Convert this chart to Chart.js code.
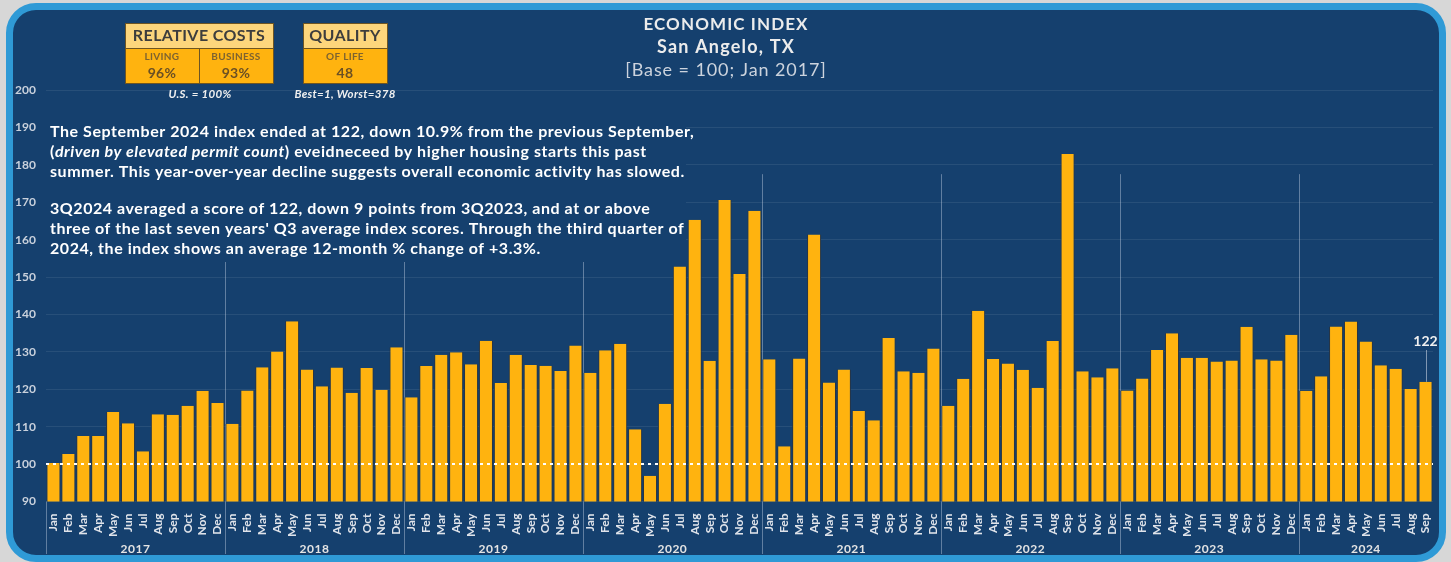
<!DOCTYPE html>
<html>
<head>
<meta charset="utf-8">
<script src="https://cdn.jsdelivr.net/npm/chart.js@4.4.1/dist/chart.umd.min.js"></script>
<style>
  html, body { margin: 0; padding: 0; width: 1451px; height: 562px; overflow: hidden; background: #d7d7d7; }
  #frame { position: absolute; left: 6px; top: 3px; width: 1426px; height: 545px;
           border: 7px solid #2f9ad6; border-radius: 30px; background: #15406e; }
  #c { position: absolute; left: 0; top: 0; }
</style>
</head>
<body>
<div id="frame"></div>
<canvas id="c" width="1451" height="562"></canvas>
<script>
const NAVY = '#15406e';
const BAR = '#ffb30f';

const monthNames = ['Jan', 'Feb', 'Mar', 'Apr', 'May', 'Jun', 'Jul', 'Aug', 'Sep', 'Oct', 'Nov', 'Dec'];
const years = ['2017', '2018', '2019', '2020', '2021', '2022', '2023', '2024'];

// index values, one array per year
const idx2017 = [100.3, 102.7, 107.5, 107.5, 113.9, 110.9, 103.4, 113.3, 113.2, 115.6, 119.6, 116.3];
const idx2018 = [110.8, 119.7, 125.9, 130.1, 138.2, 125.3, 120.8, 125.8, 119.1, 125.7, 119.9, 131.2];
const idx2019 = [117.9, 126.2, 129.2, 129.9, 126.7, 133.0, 121.7, 129.2, 126.5, 126.3, 124.9, 131.7];
const idx2020 = [124.4, 130.4, 132.2, 109.3, 96.9, 116.1, 152.8, 165.3, 127.6, 170.6, 150.8, 167.7];
const idx2021 = [128.0, 104.8, 128.2, 161.4, 121.8, 125.3, 114.2, 111.7, 133.7, 124.8, 124.4, 130.9];
const idx2022 = [115.6, 122.8, 141.0, 128.1, 126.9, 125.2, 120.4, 132.9, 182.9, 124.8, 123.2, 125.6];
const idx2023 = [119.7, 122.9, 130.5, 135.0, 128.4, 128.4, 127.4, 127.7, 136.7, 128.0, 127.7, 134.6];
const idx2024 = [119.6, 123.5, 136.8, 138.1, 132.8, 126.4, 125.5, 120.1, 122.0];

const yearData = [idx2017, idx2018, idx2019, idx2020, idx2021, idx2022, idx2023, idx2024];
const labels = yearData.flatMap(arr => arr.map((v, i) => monthNames[i]));
const values = yearData.flat();

const baseValue = 100;
const lastLabel = '122';

const noteLines = [
  [['The September 2024 index ended at 122, down 10.9% from the previous September,', false]],
  [['(', false], ['driven by elevated permit count', true], [') eveidneceed by higher housing starts this past', false]],
  [['summer. This year-over-year decline suggests overall economic activity has slowed.', false]],
  [['3Q2024 averaged a score of 122, down 9 points from 3Q2023, and at or above', false]],
  [['three of the last seven years\' Q3 average index scores. Through the third quarter of', false]],
  [['2024, the index shows an average 12-month % change of +3.3%.', false]],
];
const noteY = [132, 152, 172, 209, 229, 249];

function box(ctx, x, w, head, cells) {
  ctx.fillStyle = '#fdd67c';
  ctx.fillRect(x, 23, w, 25);
  ctx.fillStyle = BAR;
  ctx.fillRect(x, 48, w, 35);
  ctx.strokeStyle = '#6e5522';
  ctx.lineWidth = 1;
  ctx.strokeRect(x + 0.5, 23.5, w, 60);
  ctx.beginPath(); ctx.moveTo(x, 48.5); ctx.lineTo(x + w, 48.5); ctx.stroke();
  ctx.textAlign = 'center';
  ctx.textBaseline = 'middle';
  ctx.fillStyle = '#3d3d3d';
  ctx.font = 'bold 16px Lato';
  ctx.letterSpacing = '0.4px';
  ctx.fillText(head, x + w / 2, 36);
  ctx.letterSpacing = '0.3px';
  const cw = w / cells.length;
  cells.forEach((c, i) => {
    if (i > 0) {
      ctx.beginPath(); ctx.moveTo(x + cw * i + 0.5, 48); ctx.lineTo(x + cw * i + 0.5, 83); ctx.stroke();
    }
    ctx.fillStyle = '#7d6330';
    ctx.font = 'bold 10px Lato';
    ctx.fillText(c[0], x + cw * i + cw / 2, 57);
    ctx.fillStyle = '#6b5024';
    ctx.font = 'bold 14px Lato';
    ctx.fillText(c[1], x + cw * i + cw / 2, 73);
  });
  ctx.letterSpacing = '0px';
}

const decorations = {
  id: 'decorations',
  beforeDatasetsDraw(chart) {
    const {ctx, chartArea, scales: {x, y}} = chart;
    const step = x.getPixelForValue(1) - x.getPixelForValue(0);
    ctx.save();
    ctx.strokeStyle = 'rgba(190,205,225,0.45)';
    ctx.lineWidth = 1;
    let i = 0;
    yearData.forEach((arr, k) => {
      const xp = Math.round(x.getPixelForValue(i) - step / 2) + 0.5;
      ctx.beginPath();
      ctx.moveTo(xp, k === 0 ? chartArea.bottom : y.getPixelForValue(177.5));
      ctx.lineTo(xp, 554);
      ctx.stroke();
      i += arr.length;
    });
    // commentary panel
    ctx.fillStyle = NAVY;
    ctx.fillRect(44, 116, 642, 146);
    ctx.fillStyle = '#ffffff';
    ctx.textBaseline = 'middle';
    ctx.textAlign = 'left';
    ctx.letterSpacing = '0.55px';
    noteLines.forEach((segs, li) => {
      let xp = 50;
      segs.forEach(([t, it]) => {
        ctx.font = (it ? 'italic ' : '') + 'bold 16px Lato';
        ctx.fillText(t, xp, noteY[li]);
        xp += ctx.measureText(t).width;
      });
    });
    ctx.letterSpacing = '0px';
    ctx.restore();
  },
  afterDatasetsDraw(chart) {
    const {ctx, chartArea, scales: {x, y}} = chart;
    ctx.save();
    // base = 100 dotted line
    const yb = y.getPixelForValue(baseValue);
    ctx.strokeStyle = '#ffffff';
    ctx.lineWidth = 2;
    ctx.setLineDash([3, 4]);
    ctx.beginPath();
    ctx.moveTo(chartArea.left, yb);
    ctx.lineTo(chartArea.right, yb);
    ctx.stroke();
    ctx.setLineDash([]);

    // last value label
    const li = values.length - 1;
    const lx = x.getPixelForValue(li);
    ctx.strokeStyle = 'rgba(200,210,225,0.6)';
    ctx.lineWidth = 1;
    ctx.beginPath();
    ctx.moveTo(Math.round(lx) + 0.5, y.getPixelForValue(values[li]));
    ctx.lineTo(Math.round(lx) + 0.5, y.getPixelForValue(130.5));
    ctx.stroke();
    ctx.fillStyle = '#f0f0f0';
    ctx.font = 'bold 14px Lato';
    ctx.textAlign = 'center';
    ctx.textBaseline = 'middle';
    ctx.fillText(lastLabel, lx, y.getPixelForValue(132.8));

    // year labels
    ctx.fillStyle = '#e4e4e4';
    ctx.font = 'bold 12px Lato';
    ctx.letterSpacing = '0.5px';
    let i = 0;
    yearData.forEach((arr, k) => {
      const cx = (x.getPixelForValue(i) + x.getPixelForValue(i + arr.length - 1)) / 2;
      ctx.fillText(years[k], cx, 549);
      i += arr.length;
    });

    // title
    ctx.fillStyle = '#ececec';
    ctx.font = 'bold 17px Lato';
    ctx.letterSpacing = '1.1px';
    ctx.fillText('ECONOMIC INDEX', 726, 25);
    ctx.font = 'bold 18px Lato';
    ctx.letterSpacing = '1.2px';
    ctx.fillText('San Angelo, TX', 726, 47);
    ctx.fillStyle = '#ccd3dd';
    ctx.font = '18px Lato';
    ctx.letterSpacing = '0.9px';
    ctx.fillText('[Base = 100; Jan 2017]', 726, 70);
    ctx.letterSpacing = '0px';

    // cost / quality boxes
    box(ctx, 125, 148, 'RELATIVE COSTS', [['LIVING', '96%'], ['BUSINESS', '93%']]);
    box(ctx, 303, 84, 'QUALITY', [['OF LIFE', '48']]);
    ctx.fillStyle = '#f0f0f0';
    ctx.font = 'italic bold 11.5px Lato';
    ctx.letterSpacing = '0.3px';
    ctx.fillText('U.S. = 100%', 200, 94);
    ctx.fillText('Best=1, Worst=378', 345, 94);
    ctx.letterSpacing = '0px';
    ctx.restore();
  }
};

new Chart(document.getElementById('c'), {
  type: 'bar',
  data: {
    labels: labels,
    datasets: [{
      data: values,
      backgroundColor: BAR,
      borderColor: '#2a3543',
      borderWidth: {left: 1, right: 1, top: 0, bottom: 0},
      borderSkipped: false,
      barPercentage: 0.94,
      categoryPercentage: 1.0
    }]
  },
  options: {
    responsive: false,
    animation: false,
    layout: { padding: {left: 12, right: 18, top: 90, bottom: 20.5} },
    scales: {
      x: {
        grid: { display: false },
        border: { display: false },
        ticks: {
          autoSkip: false, minRotation: 90, maxRotation: 90, padding: 4,
          color: '#dfe3ea', font: { family: 'Lato', weight: 'bold', size: 12 }
        },
        afterFit: (axis) => { axis.height = 40; }
      },
      y: {
        min: 90,
        max: 200,
        grid: { color: 'rgba(255,255,255,0.08)', drawTicks: false },
        border: { display: false },
        ticks: {
          stepSize: 10, padding: 10,
          color: '#c9d1dc', font: { family: 'Lato', weight: 'bold', size: 12 }
        },
        afterFit: (axis) => { axis.width = 34; }
      }
    },
    plugins: {
      legend: { display: false },
      tooltip: { enabled: false }
    }
  },
  plugins: [decorations]
});
</script>
</body>
</html>
